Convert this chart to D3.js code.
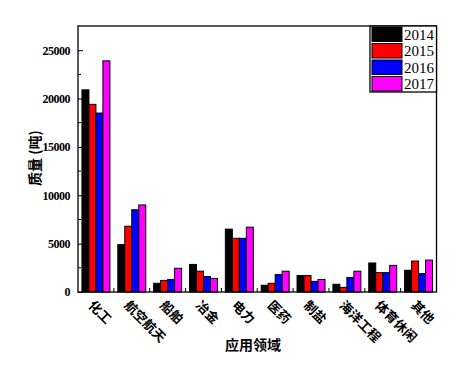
<!DOCTYPE html>
<html><head><meta charset="utf-8">
<script src="https://cdn.jsdelivr.net/npm/d3@7"></script>
<style>body{margin:0;background:#fff}</style>
</head><body>
<svg id="c" width="466" height="381"></svg>
<script>
const categories = ["化工","航空航天","船舶","冶金","电力","医药","制盐","海洋工程","体育休闲","其他"];
const years = ["2014","2015","2016","2017"];
const v2014 = [20900,4900,900,2850,6500,700,1700,800,3000,2250];
const v2015 = [19400,6800,1200,2150,5550,900,1700,480,2000,3200];
const v2016 = [18500,8500,1300,1600,5550,1800,1100,1500,2000,1900];
const v2017 = [23900,9000,2450,1400,6700,2150,1300,2150,2750,3300];
const yTicks = [0,5000,10000,15000,20000,25000];
const colors = ["#000000","#ff0000","#0000ff","#ff00ff"];
const series = [v2014,v2015,v2016,v2017];

const svg = d3.select("#c");
const L=78, R=436.5, T=26, B=292;
const x0 = d3.scaleBand().domain(categories).range([L,R]).paddingInner(0.22).paddingOuter(0.11);
const x1 = d3.scaleBand().domain(years).range([0,x0.bandwidth()]);
const y = d3.scaleLinear().domain([0,27500]).range([B,T]);

// bars
categories.forEach((c,i)=>{
  years.forEach((yr,j)=>{
    const v = series[j][i];
    svg.append("rect")
      .attr("x", x0(c)+x1(yr)).attr("y", y(v))
      .attr("width", x1.bandwidth()).attr("height", B-y(v))
      .attr("fill", colors[j]).attr("stroke","#000").attr("stroke-width",1);
  });
});

// frame
svg.append("rect").attr("x",L).attr("y",T).attr("width",R-L).attr("height",B-T)
  .attr("fill","none").attr("stroke","#000").attr("stroke-width",1.3);

// y axis
const yAxis = d3.axisLeft(y).tickValues(yTicks).tickSize(-5).tickPadding(8).tickFormat(d3.format("d"));
const ga = svg.append("g").attr("transform",`translate(${L},0)`).call(yAxis);
ga.select(".domain").remove();
ga.selectAll("text").attr("font-family","Liberation Serif").attr("font-weight","bold").attr("font-size",12).attr("fill","#000").attr("letter-spacing","-0.5");
const minor = d3.range(2500,27500,5000);
svg.append("g").selectAll("line").data(minor).join("line")
  .attr("x1",L).attr("x2",L+3).attr("y1",d=>y(d)).attr("y2",d=>y(d)).attr("stroke","#000");

// x ticks at boundaries
const bounds = d3.range(1,categories.length).map(k=>L+ (R-L)*k/categories.length);
svg.append("g").selectAll("line").data(bounds).join("line")
  .attr("x1",d=>d).attr("x2",d=>d).attr("y1",B).attr("y2",B-4).attr("stroke","#000");

// x labels
svg.append("g").selectAll("text").data(categories).join("text")
  .attr("transform",d=>`translate(${x0(d)+x0.bandwidth()/2-1},${B+7}) rotate(45)`)
  .attr("dy","0.8em")
  .attr("font-family","Noto Sans CJK SC").attr("font-weight","bold").attr("font-size",13)
  .attr("fill","#000").text(d=>d);

// axis titles
svg.append("text").attr("x",253).attr("y",350).attr("text-anchor","middle")
  .attr("font-family","Noto Sans CJK SC").attr("font-weight","bold").attr("font-size",14).text("应用领域");
svg.append("text").attr("transform","translate(40,158) rotate(-90)").attr("text-anchor","middle")
  .attr("font-family","Noto Sans CJK SC").attr("font-weight","bold").attr("font-size",14).text("质量 (吨)");

// legend
const lx=370, ly=26, lw=R-370, rh=16.5;
const lg = svg.append("g");
lg.append("rect").attr("x",lx).attr("y",ly).attr("width",lw).attr("height",rh*4).attr("fill","#fff").attr("stroke","#000").attr("stroke-width",1.3);
years.forEach((yr,j)=>{
  lg.append("rect").attr("x",lx+2).attr("y",ly+1+j*rh).attr("width",30).attr("height",rh-2)
    .attr("fill",colors[j]).attr("stroke","#000").attr("stroke-width",1);
  lg.append("text").attr("x",lx+34).attr("y",ly+j*rh+rh/2).attr("dy","0.36em")
    .attr("font-family","Liberation Serif").attr("font-size",15).attr("fill","#000").text(yr);
});
</script>
</body></html>
